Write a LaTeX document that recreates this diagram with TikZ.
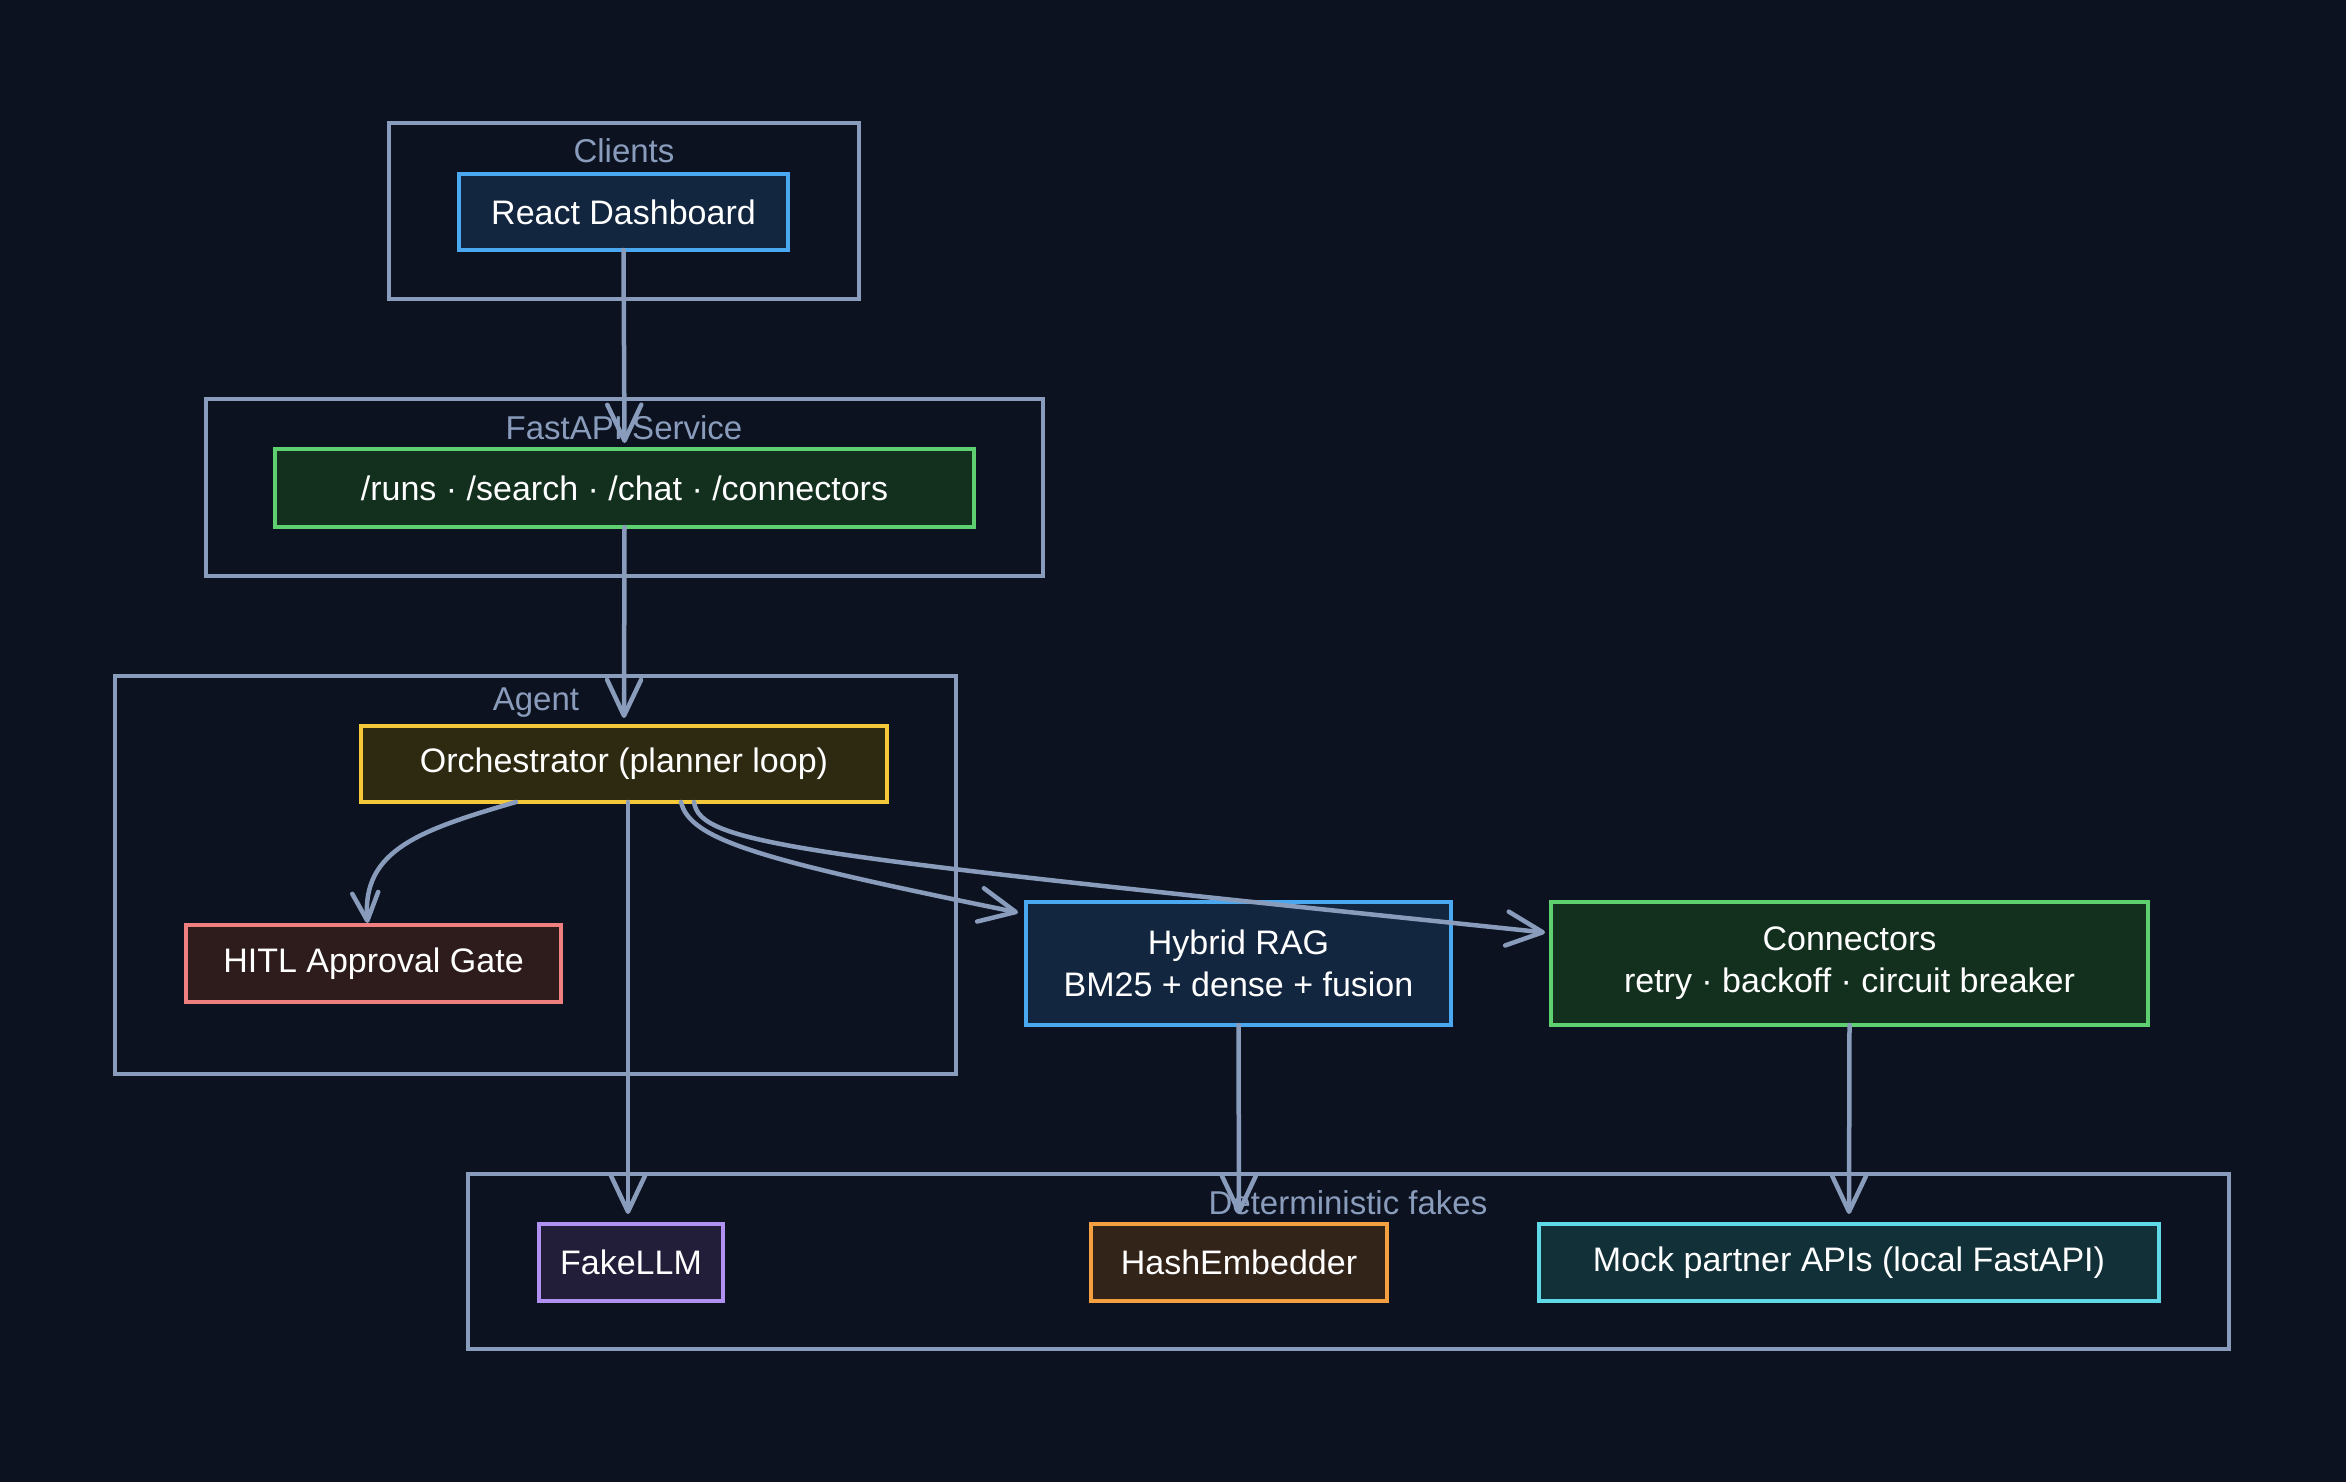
\documentclass[tikz,border=0pt]{standalone}
\usepackage{fontspec}
\setmainfont{Liberation Sans}
\usetikzlibrary{arrows.meta}
\definecolor{bg}{HTML}{0C1220}
\definecolor{linec}{HTML}{8A9CBC}
\definecolor{blueb}{HTML}{4AA8F0}\definecolor{bluef}{HTML}{13263F}
\definecolor{greenb}{HTML}{5FD070}\definecolor{greenf}{HTML}{13301F}
\definecolor{yellowb}{HTML}{F5C83A}\definecolor{yellowf}{HTML}{2E2A12}
\definecolor{redb}{HTML}{F08080}\definecolor{redf}{HTML}{2E1C1C}
\definecolor{purpb}{HTML}{B090F0}\definecolor{purpf}{HTML}{221D38}
\definecolor{orangeb}{HTML}{F5A040}\definecolor{orangef}{HTML}{33241A}
\definecolor{cyanb}{HTML}{5FD8E8}\definecolor{cyanf}{HTML}{123038}
\tikzset{
  container/.style={draw=linec, line width=4.5pt, inner sep=0pt, outer sep=0pt},
  clabel/.style={text=linec, font=\fontsize{33}{39}\selectfont},
  box/.style={line width=4pt, inner sep=0pt, outer sep=0pt, text=white,
    align=center, font=\fontsize{34}{42}\selectfont},
  arr/.style={draw=linec, line width=4.5pt, line cap=round,
    -{Straight Barb[length=36pt,width=34pt,round]}},
  arrs/.style={draw=linec, line width=4.5pt, line cap=round,
    -{Straight Barb[length=28pt,width=26pt,round]}},
}
\begin{document}
\begin{tikzpicture}[x=1pt,y=-1pt]
\fill[bg] (0,0) rectangle (2346,1482);
\useasboundingbox (0,0) rectangle (2346,1482);

% containers
\node[container, minimum width=470pt, minimum height=176pt] (clients) at (624,211) {};
\node[container, minimum width=837pt, minimum height=177pt] (fastapi) at (624.5,487.5) {};
\node[container, minimum width=841pt, minimum height=398pt] (agent) at (535.5,875) {};
\node[container, minimum width=1761pt, minimum height=175pt] (fakes) at (1348.5,1261.5) {};

% boxes
\node[box, draw=blueb, fill=bluef, minimum width=329pt, minimum height=76pt] (react) at (623.5,212) {React Dashboard};
\node[box, draw=greenb, fill=greenf, minimum width=699pt, minimum height=78pt] (endpoints) at (624.5,488) {/runs · /search · /chat · /connectors};
\node[box, draw=yellowb, fill=yellowf, minimum width=526pt, minimum height=76pt] (orch) at (624,764) {Orchestrator (planner loop)};
\node[box, draw=redb, fill=redf, minimum width=375pt, minimum height=77pt] (hitl) at (373.5,963.5) {HITL Approval Gate};
\node[box, draw=blueb, fill=bluef, minimum width=425pt, minimum height=123pt] (rag) at (1238.5,963.5) {Hybrid RAG\\BM25 + dense + fusion};
\node[box, draw=greenb, fill=greenf, minimum width=597pt, minimum height=123pt] (conn) at (1849.5,963.5) {Connectors\\retry · backoff · circuit breaker};
\node[box, draw=purpb, fill=purpf, minimum width=184pt, minimum height=77pt] (fakellm) at (631,1262.5) {FakeLLM};
\node[box, draw=orangeb, fill=orangef, minimum width=296pt, minimum height=77pt] (hash) at (1239,1262.5) {HashEmbedder};
\node[box, draw=cyanb, fill=cyanf, minimum width=620pt, minimum height=77pt] (mock) at (1849,1262.5) {Mock partner APIs (local FastAPI)};

% container labels
\node[clabel] (lclients) at (624,151) {Clients};
\node[clabel] (lfastapi) at (624,428) {FastAPI Service};
\node[clabel] (lagent) at (536,703) {Agent};
\node[clabel] (lfakes) at (1348,1203) {Deterministic fakes};

% connectors
\draw[arr] (react.south) -- ([yshift=6pt]endpoints.north);
\draw[arr] (endpoints.south) -- ([yshift=8pt]orch.north);
\draw[arrs] ([xshift=-108pt]orch.south) .. controls (420,830) and (362,850) .. ([xshift=-6pt,yshift=2pt]hitl.north);
\draw[arr] ([xshift=4pt]orch.south) -- ([xshift=-3pt,yshift=10pt]fakellm.north);
\draw[arr] ([xshift=57pt]orch.south) .. controls (690,840) and (760,860) .. ([xshift=-8pt,yshift=51pt]rag.west);
\draw[arr] ([xshift=70pt]orch.south) .. controls (700,845) and (800,855) .. ([xshift=-6pt,yshift=31pt]conn.west);
\draw[arr] (rag.south) -- ([yshift=10pt]hash.north);
\draw[arr] (conn.south) -- ([yshift=10pt]mock.north);
\end{tikzpicture}
\end{document}
